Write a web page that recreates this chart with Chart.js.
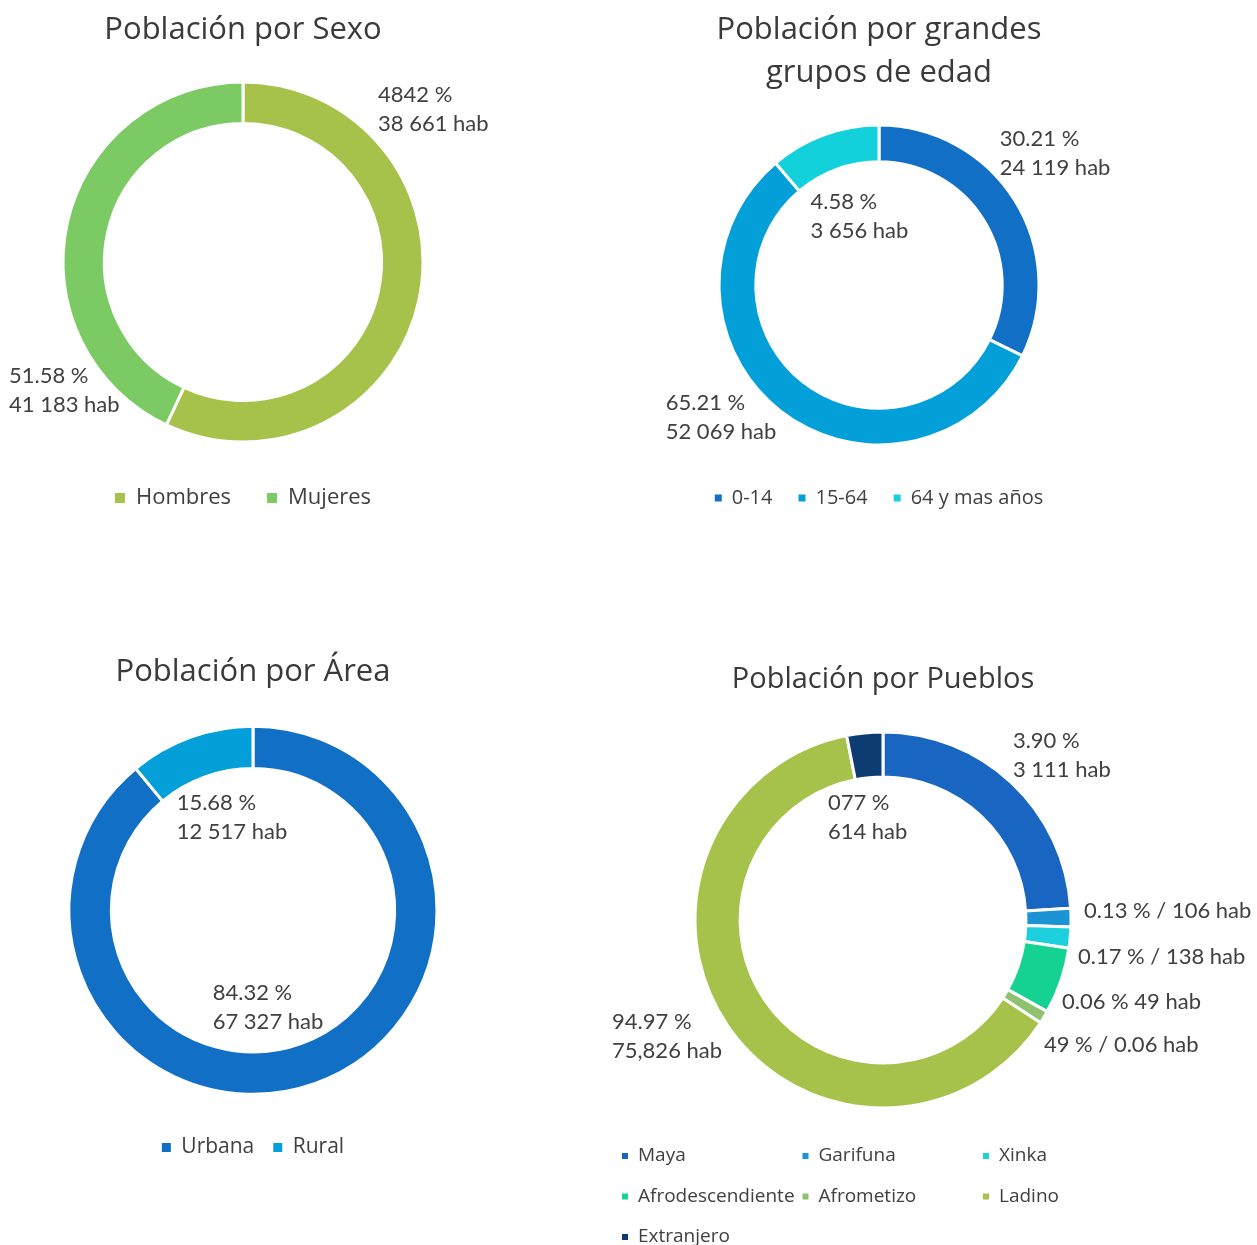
<!DOCTYPE html>
<html>
<head>
<meta charset="utf-8">
<script src="https://cdn.jsdelivr.net/npm/chart.js@4"></script>
<style>
  html, body { margin: 0; padding: 0; background: #ffffff; overflow: hidden; }
  body { width: 1257px; height: 1245px; position: relative; }
  canvas { position: absolute; }
</style>
</head>
<body>
<canvas id="c1" width="520" height="519" style="left:0px;top:0px;"></canvas>
<canvas id="c2" width="478" height="518" style="left:640px;top:0px;"></canvas>
<canvas id="c3" width="506" height="548" style="left:0px;top:620px;"></canvas>
<canvas id="c4" width="657" height="605" style="left:600px;top:640px;"></canvas>
<script>
// ---------- DATA (arc shares as drawn in the picture; label texts as printed) ----------
const sexoLabels = ['Hombres', 'Mujeres'];
const sexoShare = [57, 43];
const sexoText = [['4842 %', '38 661 hab'], ['51.58 %', '41 183 hab']];
const sexoColors = ['#a7c24a', '#7cca64'];

const edadLabels = ['0-14', '15-64', '64 y mas años'];
const edadShare = [32.3, 56.5, 11.2];
const edadText = [['30.21 %', '24 119 hab'], ['65.21 %', '52 069 hab'], ['4.58 %', '3 656 hab']];
const edadColors = ['#116fc6', '#039fd9', '#12d1da'];

const areaLabels = ['Urbana', 'Rural'];
const areaShare = [89, 11];
const areaText = [['84.32 %', '67 327 hab'], ['15.68 %', '12 517 hab']];
const areaColors = ['#116fc6', '#039fd9'];

const puebloLabels = ['Maya', 'Garifuna', 'Xinka', 'Afrodescendiente', 'Afrometizo', 'Ladino', 'Extranjero'];
const puebloShare = [24.0, 1.6, 1.8, 5.7, 1.1, 62.7, 3.1];
const puebloText = [['3.90 %', '3 111 hab'], ['0.13 % / 106 hab'], ['0.17 % / 138 hab'], ['0.06 % 49 hab'],
                    ['49 % / 0.06 hab'], ['94.97 %', '75,826 hab'], ['077 %', '614 hab']];
const puebloColors = ['#1866c2', '#1b93d4', '#1dd0dd', '#16d292', '#8ec26e', '#a7c24a', '#0c3c72'];

// ---------- PLUGINS ----------
const ringLabels = {
  id: 'ringLabels',
  afterDatasetsDraw(chart, args, opts) {
    const meta = chart.getDatasetMeta(0);
    const a = meta.data[0];
    const p = a.getProps(['x', 'y', 'outerRadius'], true);
    const ctx = chart.ctx;
    ctx.save();
    ctx.font = opts.size + 'px ' + opts.family;
    ctx.fillStyle = opts.color;
    ctx.textAlign = 'left';
    ctx.textBaseline = 'middle';
    opts.texts.forEach((lines, i) => {
      const an = opts.anchors[i];
      const lx = p.x + an[0] * p.outerRadius;
      const ly = p.y + an[1] * p.outerRadius;
      lines.forEach((s, j) => ctx.fillText(s, lx, ly + j * opts.lineGap));
    });
    ctx.restore();
  }
};

const gridLegend = {
  id: 'gridLegend',
  afterDraw(chart, args, opts) {
    if (!opts.display) return;
    const ctx = chart.ctx;
    const labels = chart.data.labels;
    const colors = chart.data.datasets[0].backgroundColor;
    ctx.save();
    ctx.font = opts.size + 'px ' + opts.family;
    ctx.textBaseline = 'middle';
    ctx.textAlign = 'left';
    labels.forEach((t, i) => {
      const col = i % opts.columns, row = Math.floor(i / opts.columns);
      const x = opts.x + col * opts.colWidth;
      const y = chart.chartArea.bottom + opts.y + row * opts.rowHeight;
      ctx.fillStyle = colors[i];
      ctx.fillRect(x, y - opts.box / 2, opts.box, opts.box);
      ctx.fillStyle = opts.color;
      ctx.fillText(t, x + opts.box + opts.gap, y);
    });
    ctx.restore();
  }
};

function legendLabels(size, box, padding) {
  return {
    font: { family: "'Open Sans'", size: size },
    color: '#404040',
    boxWidth: box,
    boxHeight: box,
    padding: padding,
    generateLabels(chart) {
      const items = Chart.overrides.doughnut.plugins.legend.labels.generateLabels(chart);
      items.forEach(it => { it.lineWidth = 0; it.strokeStyle = 'rgba(0,0,0,0)'; });
      return items;
    }
  };
}

function makeChart(id, cfg) {
  return new Chart(document.getElementById(id), {
    type: 'doughnut',
    data: {
      labels: cfg.labels,
      datasets: [{
        data: cfg.values,
        backgroundColor: cfg.colors,
        borderColor: '#ffffff',
        borderWidth: 3
      }]
    },
    options: {
      responsive: false,
      animation: false,
      events: [],
      radius: cfg.radius,
      cutout: cfg.cutout,
      layout: { padding: cfg.layoutPadding || 0 },
      plugins: {
        title: {
          display: true,
          text: cfg.title,
          color: '#3a3a3a',
          font: { family: "'Open Sans'", size: cfg.titleSize, weight: 'normal', lineHeight: cfg.titleLineHeight || 1.2 },
          padding: cfg.titlePadding
        },
        legend: cfg.legend ? {
          display: true,
          position: 'bottom',
          labels: legendLabels(cfg.legend.size, cfg.legend.box, cfg.legend.padding)
        } : { display: false },
        tooltip: { enabled: false },
        ringLabels: {
          texts: cfg.texts,
          anchors: cfg.anchors,
          family: 'Lato',
          size: 22,
          color: '#404040',
          lineGap: 29
        },
        gridLegend: cfg.gridLegend || { display: false }
      }
    },
    plugins: [ringLabels, gridLegend]
  });
}

makeChart('c1', {
  title: 'Población por Sexo', titleSize: 31,
  labels: sexoLabels, values: sexoShare, colors: sexoColors, texts: sexoText,
  anchors: [[0.75, -0.928], [-1.30, 0.633]],
  radius: 180, cutout: '77%',
  layoutPadding: { left: 0, right: 34, top: 0, bottom: 0 },
  titlePadding: { top: 11.4, bottom: 24.4 },
  legend: { size: 22, box: 10, padding: 36 }
});

makeChart('c2', {
  title: ['Población por grandes', 'grupos de edad'], titleSize: 31,
  titleLineHeight: 1.387,
  labels: edadLabels, values: edadShare, colors: edadColors, texts: edadText,
  anchors: [[0.755, -0.912], [-1.333, 0.736], [-0.428, -0.522]],
  radius: 160, cutout: '77%',
  titlePadding: { top: 8.5, bottom: 13.5 },
  legend: { size: 20, box: 7, padding: 26 }
});

makeChart('c3', {
  title: 'Población por Área', titleSize: 31,
  labels: areaLabels, values: areaShare, colors: areaColors, texts: areaText,
  anchors: [[-0.219, 0.448], [-0.415, -0.585]],
  radius: 184, cutout: '77%',
  titlePadding: { top: 33.4, bottom: 11.9 },
  legend: { size: 21, box: 9, padding: 19 }
});

makeChart('c4', {
  title: 'Población por Pueblos', titleSize: 29,
  labels: puebloLabels, values: puebloShare, colors: puebloColors, texts: puebloText,
  anchors: [[0.691, -0.952], [1.069, -0.048], [1.037, 0.197], [0.952, 0.436],
            [0.856, 0.665], [-1.441, 0.543], [-0.293, -0.622]],
  radius: 188, cutout: '76%',
  layoutPadding: { left: 0, right: 91, top: 0, bottom: 115 },
  titlePadding: { top: 22.6, bottom: 12.6 },
  legend: null,
  gridLegend: { display: true, family: "'Open Sans'", size: 19, color: '#404040',
                columns: 3, colWidth: 180.5, rowHeight: 40.5, x: 22, y: 26, box: 6, gap: 10 }
});
</script>
</body>
</html>
